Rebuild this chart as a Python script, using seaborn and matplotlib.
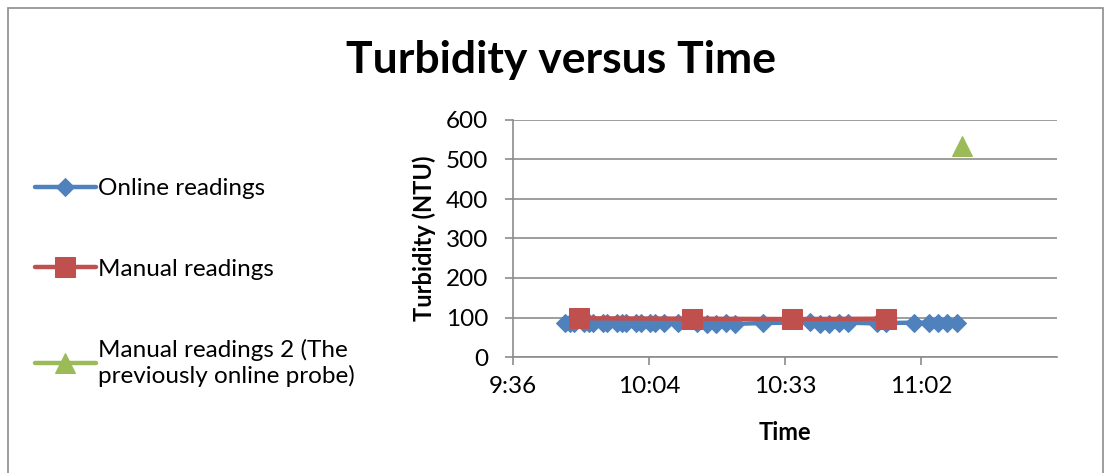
import numpy as np
import pandas as pd
import matplotlib
matplotlib.use("Agg")
import matplotlib.pyplot as plt
from matplotlib.patches import Rectangle
import seaborn as sns

# ---------------- data ----------------
online_times = ["9:47", "9:48", "9:49", "9:51", "9:52", "9:53", "9:55", "9:56",
                "9:58", "9:59", "10:00", "10:02", "10:03", "10:05", "10:06", "10:08",
                "10:11", "10:15", "10:17", "10:19", "10:21", "10:23", "10:29",
                "10:39", "10:41", "10:43", "10:45", "10:47", "10:53", "10:55",
                "11:01", "11:04", "11:06", "11:08", "11:10"]
online_values = [86, 86, 85, 85, 86, 86, 85, 86, 86, 85, 86, 86, 87, 87, 86, 85,
                 87, 86, 84, 84, 85, 84, 86, 88, 84, 84, 85, 87, 85, 86,
                 87, 87, 87, 87, 87]
manual_times = ["9:50", "10:14", "10:35", "10:55"]
manual_values = [98, 97, 96, 97]
manual2_times = ["11:11"]
manual2_values = [535]

series_names = ["Online readings", "Manual readings",
                "Manual readings 2 (The\npreviously online probe)"]
x_tick_labels = ["9:36", "10:04", "10:33", "11:02"]
y_ticks = [0, 100, 200, 300, 400, 500, 600]

title = "Turbidity versus Time"
x_label = "Time"
y_label = "Turbidity (NTU)"


def to_day_fraction(t):
    h, m = t.split(":")
    return (int(h) * 60 + int(m)) / 1440.0


def tick_pos(t):
    # Excel axis ticks sit on 0.02-day steps; the label shows the truncated minute
    return round(to_day_fraction(t) / 0.02) * 0.02


df_online = pd.DataFrame({"x": [to_day_fraction(t) for t in online_times], "y": online_values})
df_manual = pd.DataFrame({"x": [to_day_fraction(t) for t in manual_times], "y": manual_values})
df_manual2 = pd.DataFrame({"x": [to_day_fraction(t) for t in manual2_times], "y": manual2_values})

# ---------------- style ----------------
sns.set_theme(style="white")
plt.rcParams["font.family"] = ["Lato", "DejaVu Sans"]

BLUE = "#4F81BD"
RED = "#C0504D"
GREEN = "#9BBB59"
GRID = "#8C8C8C"

W, H = 1111, 473
fig = plt.figure(figsize=(W / 100, H / 100), dpi=100)
fig.patch.set_facecolor("white")

# chart border
fig.add_artist(Rectangle((8 / W, -0.02), (1103 - 8) / W, (473 - 8) / H + 0.02,
                         transform=fig.transFigure, fill=False,
                         edgecolor="#8C8C8C", linewidth=1.2))

ax = fig.add_axes([513 / W, 1 - 357 / H, (1057 - 513) / W, (357 - 120) / H])

sns.lineplot(data=df_online, x="x", y="y", ax=ax, color=BLUE, linewidth=3.2,
             marker="D", markersize=9.5, markeredgecolor=BLUE, markerfacecolor=BLUE,
             label=series_names[0], zorder=3)
sns.lineplot(data=df_manual, x="x", y="y", ax=ax, color=RED, linewidth=3.2,
             marker="s", markersize=14, markeredgecolor=RED, markerfacecolor=RED,
             label=series_names[1], zorder=4)
sns.lineplot(data=df_manual2, x="x", y="y", ax=ax, color=GREEN, linewidth=3.2,
             marker="^", markersize=15, markeredgecolor=GREEN, markerfacecolor=GREEN,
             label=series_names[2], zorder=4)

ax.set_xlim(0.40, 0.48)
ax.set_ylim(0, 600)
ax.set_yticks(y_ticks)
ax.set_yticklabels([str(v) for v in y_ticks])
ax.set_xticks([tick_pos(t) for t in x_tick_labels])
ax.set_xticklabels(x_tick_labels)

ax.yaxis.grid(True, color=GRID, linewidth=1.2)
ax.set_axisbelow(True)
for side in ["top", "right"]:
    ax.spines[side].set_visible(False)
for side in ["left", "bottom"]:
    ax.spines[side].set_color(GRID)
    ax.spines[side].set_linewidth(1.2)

ax.tick_params(axis="y", which="both", left=True, length=6, width=1.2, color=GRID,
               direction="out", pad=12, labelsize=17.5, labelcolor="black")
ax.tick_params(axis="x", which="both", bottom=True, length=6, width=1.2, color=GRID,
               direction="out", pad=8, labelsize=17.5, labelcolor="black")

ax.set_xlabel(x_label, fontsize=17, fontweight="bold", color="black", labelpad=17)
ax.set_ylabel(y_label, fontsize=17, fontweight="bold", color="black", labelpad=7)

fig.text(561 / W, 1 - 60 / H, title, ha="center", va="center",
         fontsize=32, fontweight="bold", color="black")

handles, labels = ax.get_legend_handles_labels()
ax.legend_.remove()
leg = fig.legend(handles, labels, loc="upper left",
                 bbox_to_anchor=(35 / W, 1 - 178 / H),
                 frameon=False, fontsize=17.5, handlelength=2.5,
                 handletextpad=0.1, labelspacing=2.45, borderaxespad=0,
                 borderpad=0)
for txt in leg.get_texts():
    txt.set_color("black")

fig.savefig("out.png", dpi=100, facecolor="white")
